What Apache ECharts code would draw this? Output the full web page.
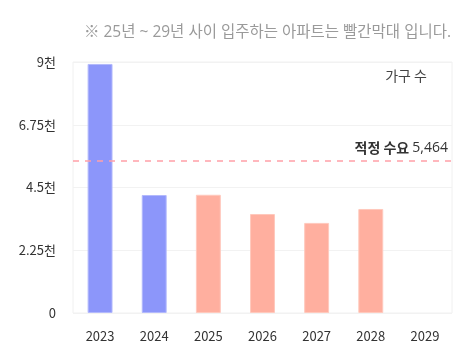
<!DOCTYPE html>
<html><head><meta charset="utf-8">
<script src="https://cdn.jsdelivr.net/npm/echarts@6/dist/echarts.min.js"></script>
<style>html,body{margin:0;padding:0;background:#fff}#c{width:471px;height:364px}</style>
</head><body><div id="c"></div>
<script>
const categories = ['2023','2024','2025','2026','2027','2028','2029'];
const households = [8930, 4230, 4240, 3550, 3230, 3730, 0];
const redFromIndex = 2;
const demand = 5464;
const yTicks = [0, 2250, 4500, 6750, 9000];
const yTickLabels = ['0', '2.25천', '4.5천', '6.75천', '9천'];

const chart = echarts.init(document.getElementById('c'));
const font = '"Noto Sans CJK KR", "Noto Sans", sans-serif';
const titleFont = '"Open Sans", "Noto Sans CJK KR", sans-serif';
chart.setOption({
  animation: false,
  textStyle: { fontFamily: font },
  title: {
    text: '※ 25년 ~ 29년 사이 입주하는 아파트는 빨간막대 입니다.',
    right: 15, top: 20,
    textStyle: { fontSize: 15.5, fontWeight: 'normal', color: '#9a9a9a', fontFamily: titleFont }
  },
  graphic: [{
    type: 'text', right: 44, top: 69,
    style: { text: '가구 수', fontSize: 14, fill: '#444', fontFamily: font }
  }],
  grid: { left: 73, right: 19, top: 62, bottom: 51, show: true, borderColor: '#f0f0f0', borderWidth: 1 },
  xAxis: {
    type: 'category', data: categories,
    axisLine: { show: false }, axisTick: { show: false },
    axisLabel: { color: '#333', fontSize: 13, margin: 17 }
  },
  yAxis: {
    type: 'value', min: 0, max: 9000, interval: 2250,
    axisLine: { show: false }, axisTick: { show: false },
    splitLine: { lineStyle: { color: '#f2f2f2' } },
    axisLabel: {
      color: '#333', fontSize: 13, margin: 17,
      formatter: v => { const i = yTicks.indexOf(v); return i >= 0 ? yTickLabels[i] : ''; }
    }
  },
  series: [{
    type: 'bar', barWidth: '46%',
    data: households.map((v, i) => ({
      value: v,
      itemStyle: i >= redFromIndex
        ? { color: '#ffaf9f', borderColor: '#ffc9bd', borderWidth: v > 0 ? 1 : 0 }
        : { color: '#8c96fa', borderColor: '#b3b9fc', borderWidth: v > 0 ? 1 : 0 }
    })),
    markLine: {
      symbol: 'none', silent: true,
      lineStyle: { type: [6, 6], color: '#ffa0a8', width: 1.5 },
      label: {
        position: 'insideEndTop', distance: [4, 6],
        formatter: '{b|적정 수요} {n|' + demand.toLocaleString('en-US') + '}',
        color: '#333', fontSize: 14,
        rich: {
          b: { fontWeight: 'bold', fontSize: 14, color: '#333' },
          n: { fontSize: 14, color: '#333', fontFamily: titleFont }
        }
      },
      data: [{ yAxis: demand }]
    }
  }]
});
</script></body></html>
